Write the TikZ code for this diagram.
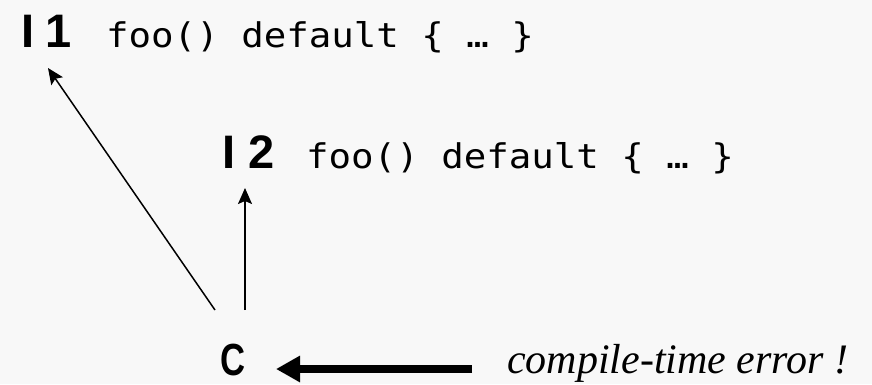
\documentclass[tikz,border=0pt]{standalone}
\usepackage{fontspec}
\setmainfont{Liberation Serif}
\newfontfamily\labfont{Liberation Sans}
\newfontfamily\narrowfont[FakeStretch=0.77]{Liberation Sans}
\newfontfamily\codefont[FakeStretch=1.1]{DejaVu Sans Mono}
\usetikzlibrary{arrows.meta,calc}
\definecolor{bgcol}{RGB}{248,248,248}
\tikzset{
  lbl/.style={inner sep=0pt, anchor=base west, font=\labfont\bfseries\fontsize{47}{50}\selectfont},
  codetxt/.style={inner sep=0pt, anchor=base west, font=\codefont\fontsize{34}{40}\selectfont},
  cls/.style={inner sep=0pt, anchor=base west, font=\narrowfont\bfseries\fontsize{45}{46}\selectfont},
  note/.style={inner sep=0pt, anchor=base west, font=\itshape\fontsize{42}{44}\selectfont},
  inharrow/.style={-{Stealth[length=16pt,width=14pt,inset=3pt]}, line width=1.5pt},
  errarrow/.style={-{Triangle[length=24pt,width=25pt]}, line width=8pt},
}
\begin{document}
\begin{tikzpicture}[x=1pt,y=-1pt]
\fill[bgcol] (0,0) rectangle (872,384);
\useasboundingbox (0,0) rectangle (872,384);
\node[lbl] (i1) at (21,47) {I\kern11pt 1};
\node[codetxt] (f1) at (106,47) {foo() default \{ … \}};
\node[lbl] (i2) at (222,168) {I\kern13pt 2};
\node[codetxt] (f2) at (306,168) {foo() default \{ … \}};
\node[cls] (c) at (220,375) {C};
\node[note] (err) at (507,373) {compile-time error !};
\coordinate (c1) at (215,310);
\coordinate (c2) at (245,310);
\coordinate (t1) at (48,68);
\coordinate (t2) at (245,188);
\coordinate (e1) at ($(err.base west)+(-35,-4)$);
\coordinate (e2) at (276,369);
\draw[inharrow] (c1) -- (t1);
\draw[inharrow] (c2) -- (t2);
\draw[errarrow] (e1) -- (e2);
\end{tikzpicture}
\end{document}
